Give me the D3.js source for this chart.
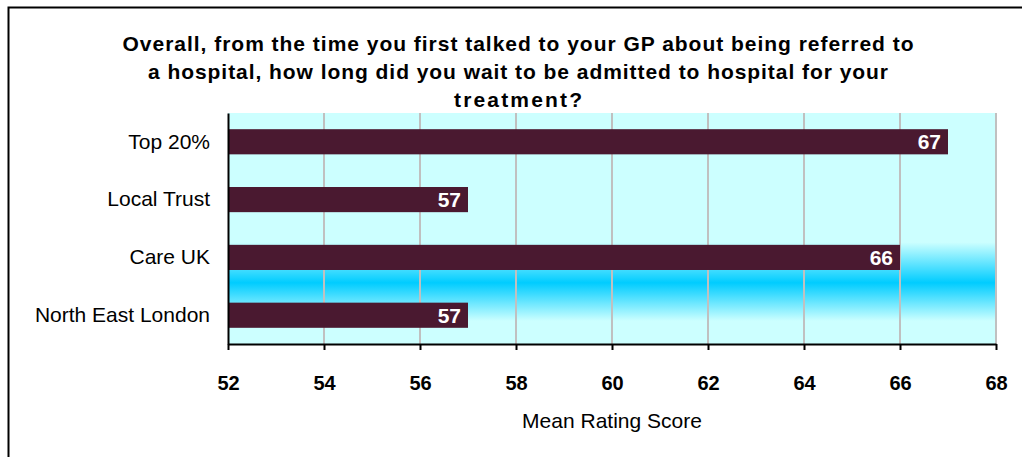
<!doctype html>
<html lang="en">
<head>
<meta charset="utf-8">
<script src="https://d3js.org/d3.v7.min.js"></script>
<title>Mean Rating Score</title>
<style>
  body { margin: 0; background: #fff; }
  svg { display: block; font-family: "Liberation Sans", Arial, sans-serif; }
</style>
</head>
<body>
<svg id="chart"></svg>
<script>
const categories = ["Top 20%", "Local Trust", "Care UK", "North East London"];
const values = [67, 57, 66, 57];
const ticks = [52, 54, 56, 58, 60, 62, 64, 66, 68];
const titleLines = [
  "Overall, from the time you first talked to your GP about being referred to",
  "a hospital, how long did you wait to be admitted to hospital for your",
  "treatment?"
];
const titleWidths = [791, 740, 128];

const width = 1022, height = 457;
const margin = { top: 113, right: 26, bottom: 113, left: 228 };
const w = width - margin.left - margin.right;
const h = height - margin.top - margin.bottom;

const svg = d3.select("#chart").attr("width", width).attr("height", height);

// outer frame
svg.append("rect")
  .attr("x", 8.5).attr("y", 7.5)
  .attr("width", width + 20).attr("height", height + 20)
  .attr("fill", "none").attr("stroke", "#000").attr("stroke-width", 2);

// title
svg.append("g").selectAll("text")
  .data(titleLines)
  .join("text")
  .attr("x", 518)
  .attr("y", (d, i) => 51 + i * 28)
  .attr("text-anchor", "middle")
  .attr("font-size", 21)
  .attr("font-weight", "bold")
  .attr("textLength", (d, i) => titleWidths[i])
  .attr("lengthAdjust", "spacing")
  .text(d => d);

const defs = svg.append("defs");
const grad = defs.append("linearGradient")
  .attr("id", "bg").attr("x1", 0).attr("x2", 0).attr("y1", 0).attr("y2", 1);
[[0, "#ccffff"], [0.56, "#ccffff"], [0.735, "#00ccff"], [0.9, "#ccffff"], [1, "#ccffff"]]
  .forEach(s => grad.append("stop").attr("offset", s[0]).attr("stop-color", s[1]));

const x = d3.scaleLinear().domain([52, 68]).range([0, w]);
const y = d3.scaleBand().domain(categories).range([0, h]).paddingInner(0.565).paddingOuter(0.28);

const g = svg.append("g").attr("transform", `translate(${margin.left},${margin.top})`);

g.append("rect").attr("width", w).attr("height", h).attr("fill", "url(#bg)");

// grid lines
g.append("g").selectAll("line")
  .data(ticks.slice(1))
  .join("line")
  .attr("x1", d => x(d)).attr("x2", d => x(d))
  .attr("y1", 0).attr("y2", h)
  .attr("stroke", "#c0c0c0").attr("stroke-width", 2);

// bars
g.append("g").selectAll("rect")
  .data(categories)
  .join("rect")
  .attr("x", 0)
  .attr("y", d => y(d))
  .attr("width", (d, i) => x(values[i]) - x(52))
  .attr("height", y.bandwidth())
  .attr("fill", "#4a1930");

// value labels
g.append("g").selectAll("text")
  .data(categories)
  .join("text")
  .attr("x", (d, i) => x(values[i]) - 7)
  .attr("y", d => y(d) + y.bandwidth() / 2)
  .attr("dy", "0.36em")
  .attr("text-anchor", "end")
  .attr("fill", "#fff")
  .attr("font-size", 21)
  .attr("font-weight", "bold")
  .text((d, i) => values[i]);

// y axis
const yAxis = g.append("g")
  .call(d3.axisLeft(y).tickSize(0).tickPadding(18));
yAxis.select(".domain").attr("stroke", "#000").attr("stroke-width", 2);
yAxis.selectAll("text").attr("font-size", 21).attr("fill", "#000");

// x axis
const xAxis = g.append("g")
  .attr("transform", `translate(0,${h})`)
  .call(d3.axisBottom(x).tickValues(ticks).tickSize(6).tickSizeOuter(0).tickPadding(26));
xAxis.select(".domain").attr("stroke", "#000").attr("stroke-width", 2);
xAxis.selectAll(".tick line").attr("stroke", "#000").attr("stroke-width", 2);
xAxis.selectAll("text").attr("font-size", 20).attr("font-weight", "bold").attr("fill", "#000");

// axis title
svg.append("text")
  .attr("x", margin.left + w / 2)
  .attr("y", 428)
  .attr("text-anchor", "middle")
  .attr("font-size", 21)
  .text("Mean Rating Score");
</script>
</body>
</html>
